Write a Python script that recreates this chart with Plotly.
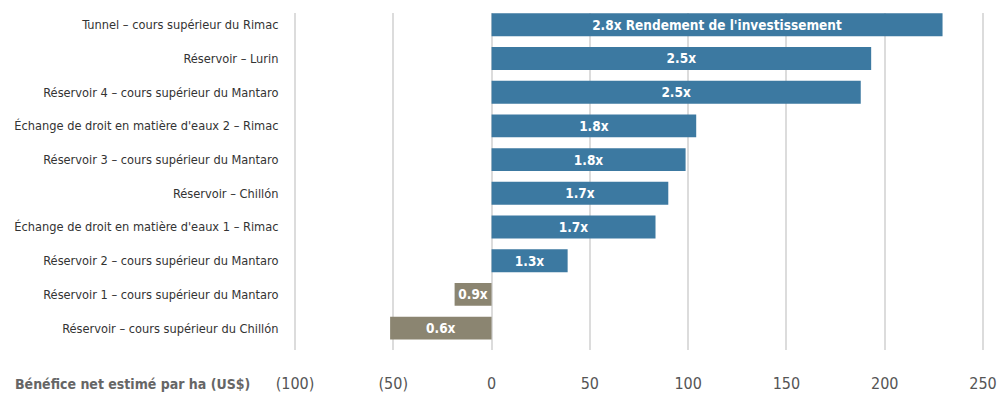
import plotly.graph_objects as go

projects = [
    "Tunnel – cours supérieur du Rimac",
    "Réservoir – Lurin",
    "Réservoir 4 – cours supérieur du Mantaro",
    "Échange de droit en matière d'eaux 2 – Rimac",
    "Réservoir 3 – cours supérieur du Mantaro",
    "Réservoir – Chillón",
    "Échange de droit en matière d'eaux 1 – Rimac",
    "Réservoir 2 – cours supérieur du Mantaro",
    "Réservoir 1 – cours supérieur du Mantaro",
    "Réservoir – cours supérieur du Chillón",
]
net_benefit = [229.4, 193.1, 187.8, 104.1, 98.7, 89.9, 83.4, 38.7, -18.8, -51.6]
roi_labels = ["2.8x Rendement de l'investissement", "2.5x", "2.5x", "1.8x", "1.8x",
              "1.7x", "1.7x", "1.3x", "0.9x", "0.6x"]
tick_vals = [-100, -50, 0, 50, 100, 150, 200, 250]
tick_text = ["(100)", "(50)", "0", "50", "100", "150", "200", "250"]

BLUE = "#3c79a1"
TAUPE = "#8b8571"
FONT = "DejaVu Sans Condensed, sans-serif"

colors = [BLUE if v >= 0 else TAUPE for v in net_benefit]

fig = go.Figure(
    go.Bar(
        x=net_benefit,
        y=projects,
        orientation="h",
        marker=dict(color=colors, line=dict(width=0)),
        text=roi_labels,
        textposition="inside",
        insidetextanchor="middle",
        textangle=0,
        textfont=dict(family=FONT, size=13.5, color="white", weight="bold"),
        constraintext="none",
        cliponaxis=False,
        hoverinfo="skip",
    )
)

fig.update_layout(
    width=999,
    height=395,
    margin=dict(l=293, r=14, t=13, b=45),
    paper_bgcolor="white",
    plot_bgcolor="white",
    bargap=0.32,
    showlegend=False,
    font=dict(family=FONT, size=13, color="#333333"),
)

fig.update_xaxes(
    automargin=False,
    range=[-101, 251],
    tickmode="array",
    tickvals=tick_vals,
    ticktext=tick_text,
    showgrid=True,
    gridcolor="#dcdcdc",
    gridwidth=1.5,
    zeroline=True,
    zerolinecolor="#dcdcdc",
    zerolinewidth=1.5,
    showline=False,
    ticks="outside",
    ticklen=19,
    tickcolor="rgba(0,0,0,0)",
    tickfont=dict(family=FONT, size=16, color="#555555"),
    fixedrange=True,
)

fig.update_yaxes(
    automargin=False,
    categoryorder="array",
    categoryarray=projects,
    range=[9.65, -0.35],
    showgrid=False,
    zeroline=False,
    showline=False,
    ticks="outside",
    ticklen=11,
    tickcolor="rgba(0,0,0,0)",
    tickfont=dict(family=FONT, size=12.7, color="#333333"),
    fixedrange=True,
)

fig.add_annotation(
    text="<b>Bénéfice net estimé par ha (US$)</b>",
    xref="paper",
    yref="paper",
    x=-0.059,
    y=-0.101,
    xanchor="right",
    yanchor="middle",
    showarrow=False,
    font=dict(family=FONT, size=14, color="#666666"),
)

fig.write_html("out.html")
